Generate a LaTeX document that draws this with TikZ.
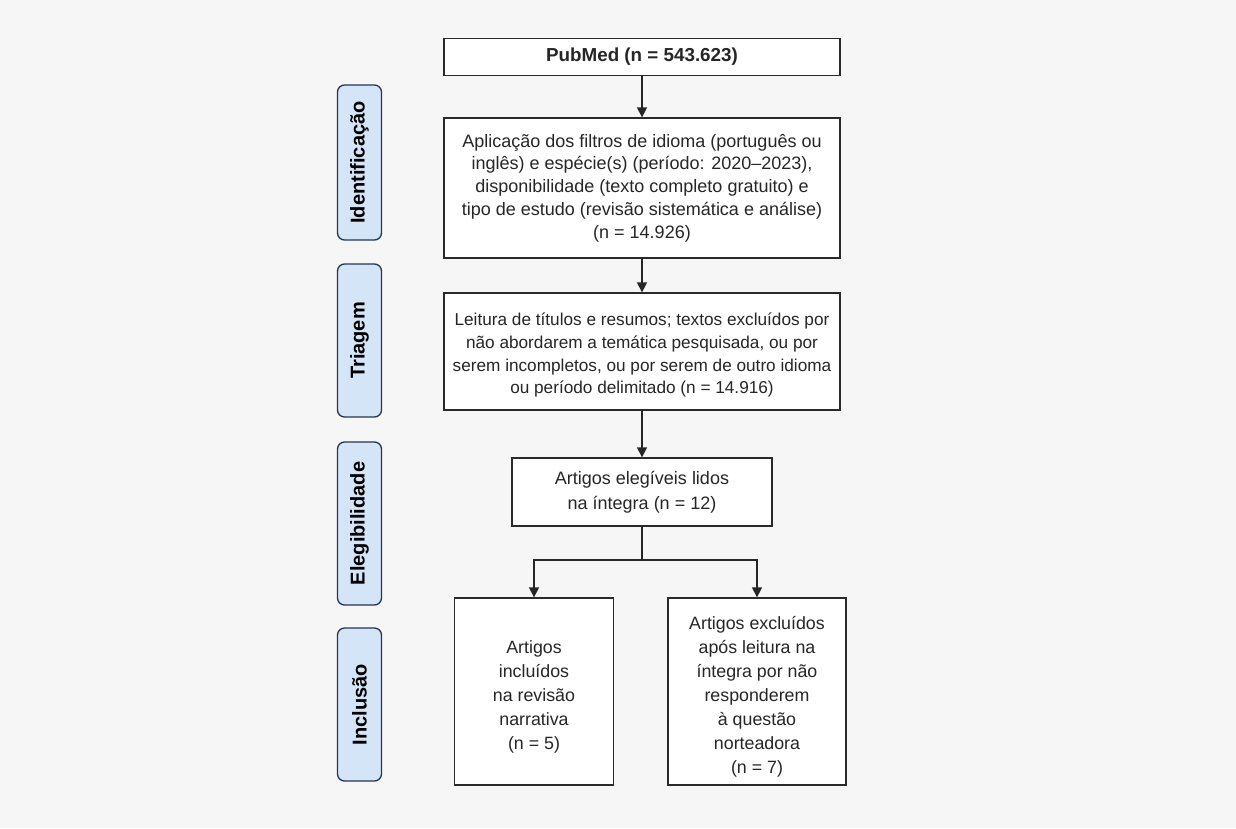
\documentclass[tikz,border=0pt]{standalone}
\usepackage{fontspec}
\setmainfont{Liberation Sans}
\usetikzlibrary{arrows.meta}
\definecolor{bgc}{HTML}{F6F6F6}
\definecolor{lblfill}{HTML}{D5E5F8}
\definecolor{lbldraw}{HTML}{27354F}
\definecolor{boxdraw}{HTML}{2A2A2A}
\begin{document}
\begin{tikzpicture}[x=1pt,y=-1pt,
  mainbox/.style={draw=boxdraw,line width=1.3pt,fill=white,align=center,inner sep=0pt,
    font=\fontsize{18}{22.8}\selectfont,text=black!85},
  lowbox/.style={mainbox,font=\fontsize{17.8}{24}\selectfont},
  phase/.style={draw=lbldraw,line width=1.3pt,fill=lblfill,rounded corners=7pt,rotate=90,
    minimum height=44pt,inner sep=0pt,font=\fontsize{20}{22}\selectfont\bfseries},
  arr/.style={line width=1.3pt,draw=black!85,-{Triangle[length=10pt,width=10pt]}},
  ln/.style={line width=1.3pt,draw=black!85}]
\useasboundingbox (0,0) rectangle (1236,828);
\fill[bgc] (0,0) rectangle (1236,828);

\node[phase,minimum width=155pt] (p1) at (359.5,162.5) {Identificação};
\node[phase,minimum width=153pt] (p2) at (359.5,340.5) {Triagem};
\node[phase,minimum width=163pt] (p3) at (359.5,523.5) {Elegibilidade};
\node[phase,minimum width=153pt] (p4) at (359.5,704.5) {Inclusão};

\node[mainbox,minimum width=396pt,minimum height=37pt,font=\fontsize{18.8}{21}\selectfont\bfseries] (b1) at (642,57) {PubMed (n = 543.623)};
\node[mainbox,minimum width=396pt,minimum height=140pt] (b2) at (642,188) {Aplicação dos filtros de idioma (português ou\\inglês) e espécie(s) (período: 2020–2023),\\disponibilidade (texto completo gratuito) e\\tipo de estudo (revisão sistemática e análise)\\(n = 14.926)};
\node[mainbox,minimum width=396pt,minimum height=117pt,font=\fontsize{17.2}{22.6}\selectfont] (b3) at (642,351.5) {\rule{0pt}{20pt}Leitura de títulos e resumos; textos excluídos por\\não abordarem a temática pesquisada, ou por\\serem incompletos, ou por serem de outro idioma\\ou período delimitado (n = 14.916)};
\node[mainbox,minimum width=260pt,minimum height=68pt,font=\fontsize{18}{24.5}\selectfont] (b4) at (642,492) {Artigos elegíveis lidos\\na íntegra (n = 12)};
\node[lowbox,minimum width=159pt,minimum height=187pt] (b5) at (534,691.5) {\rule{0pt}{24pt}Artigos\\incluídos\\na revisão\\narrativa\\(n = 5)};
\node[lowbox,minimum width=178pt,minimum height=187pt] (b6) at (757,691.5) {\rule{0pt}{24pt}Artigos excluídos\\após leitura na\\íntegra por não\\responderem\\à questão\\norteadora\\(n = 7)};

\coordinate (j) at (642,560);
\draw[arr] (b1) -- (b2);
\draw[arr] (b2) -- (b3);
\draw[arr] (b3) -- (b4);
\draw[ln] (b4) -- (j);
\draw[arr] (j) -| (b5);
\draw[arr] (j) -| (b6);
\end{tikzpicture}
\end{document}
